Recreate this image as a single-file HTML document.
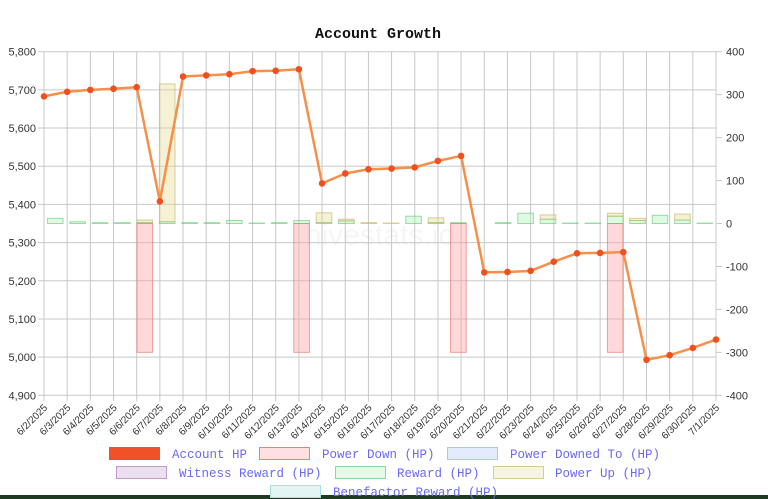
<!DOCTYPE html>
<html><head><meta charset="utf-8"><style>
body{margin:0;background:#fff;width:768px;height:499px;overflow:hidden}
svg{display:block}
</style></head><body>
<svg id="chart" width="768" height="499" xmlns="http://www.w3.org/2000/svg" font-family="Liberation Sans, sans-serif">
<rect x="0" y="0" width="768" height="499" fill="#fff"/>
<rect x="0" y="495" width="768" height="4" fill="#1e3a22"/>
<text x="378" y="38" text-anchor="middle" font-family="Liberation Mono, monospace" font-weight="bold" font-size="15" fill="#111">Account Growth</text>
<text x="380" y="245" text-anchor="middle" font-size="30" fill="#000" fill-opacity="0.04">hivestats.io</text>
<g id="grid"></g><g id="bars"></g><g id="line"></g><g id="axes"></g>
<g font-family="Liberation Mono, monospace" font-size="12.5" fill="#6a6af5">
<g><rect x="109.5" y="447.5" width="50" height="12" fill="#f05128" stroke="#f05128"/><text x="172" y="458">Account HP</text></g>
<g><rect x="259.5" y="447.5" width="50" height="12" fill="#ffe0e0" stroke="#f08080"/><text x="322" y="458">Power Down (HP)</text></g>
<g><rect x="447.5" y="447.5" width="50" height="12" fill="#e2ecfd" stroke="#a9c6f5"/><text x="510" y="458">Power Downed To (HP)</text></g>
<g><rect x="116.5" y="466.5" width="50" height="12" fill="#ebdff0" stroke="#c09ac8"/><text x="179" y="477">Witness Reward (HP)</text></g>
<g><rect x="335.5" y="466.5" width="50" height="12" fill="#e2fae6" stroke="#8ed69a"/><text x="397" y="477">Reward (HP)</text></g>
<g><rect x="493.5" y="466.5" width="50" height="12" fill="#f6f3df" stroke="#d6cc98"/><text x="555" y="477">Power Up (HP)</text></g>
<g><rect x="270.5" y="485.5" width="50" height="12" fill="#e2f5f2" stroke="#a0e3d8"/><text x="333" y="496">Benefactor Reward (HP)</text></g>
</g>
</svg>
<script>
const dates=["6/2/2025","6/3/2025","6/4/2025","6/5/2025","6/6/2025","6/7/2025","6/8/2025","6/9/2025","6/10/2025","6/11/2025","6/12/2025","6/13/2025","6/14/2025","6/15/2025","6/16/2025","6/17/2025","6/18/2025","6/19/2025","6/20/2025","6/21/2025","6/22/2025","6/23/2025","6/24/2025","6/25/2025","6/26/2025","6/27/2025","6/28/2025","6/29/2025","6/30/2025","7/1/2025"];
const accountHP=[5683,5695,5700,5703,5707,5408,5735,5738,5741,5749,5750,5754,5455,5481,5492,5494,5497,5514,5527,5222,5223,5226,5250,5272,5273,5275,4993,5005,5024,5046];
const powerDown=[0,0,0,0,-300,0,0,0,0,0,0,-300,0,0,0,0,0,0,-300,0,0,0,0,0,0,-300,0,0,0,0];
const reward=[12,4,2,2,2,4,2,2,7,1,2,7,2,6,0,0,17,2,2,0,2,24,10,1,1,17,7,19,8,1];
const powerUp=[0,0,0,0,6,321,0,0,0,0,0,0,23,4,2,1,0,11,0,0,0,0,10,0,0,7,5,0,14,0];
const leftTicks=[4900,5000,5100,5200,5300,5400,5500,5600,5700,5800];
const rightTicks=[-400,-300,-200,-100,0,100,200,300,400];
const X0=44,X1=716,Y0=51.7,Y1=395.3,NS="http://www.w3.org/2000/svg";
const xL=i=>X0+i*(X1-X0)/(dates.length-1);
const xB=i=>X0+(i+0.5)*(X1-X0)/dates.length;
const yL=v=>Y1-(v-4900)/900*(Y1-Y0);
const yR=v=>Y1-(v+400)/800*(Y1-Y0);
function mk(tag,attrs,parent,txt){const e=document.createElementNS(NS,tag);for(const k in attrs)e.setAttribute(k,attrs[k]);if(txt!==undefined)e.textContent=txt;document.getElementById(parent).appendChild(e);return e;}
const fmt=v=>v.toLocaleString("en-US");
leftTicks.forEach(v=>{const y=yL(v);
 const g=mk("line",{x1:X0-6,x2:X1,y1:y,y2:y,stroke:"#c8c8c8","stroke-width":1},"grid");
 
 
 const t=mk("text",{x:X0-8,y:y+4,"text-anchor":"end","font-size":11,fill:"#333"},"axes",fmt(v));
 
 });
rightTicks.forEach(v=>{const y=yR(v);
 const g=mk("line",{x1:X1,x2:X1+6,y1:y,y2:y,stroke:"#c8c8c8","stroke-width":1},"grid");
 
 
 const t=mk("text",{x:X1+10,y:y+4,"font-size":11,fill:"#333"},"axes",fmt(v));
 
 });
dates.forEach((d,i)=>{const x=xL(i);
 const g=mk("line",{x1:x,x2:x,y1:Y0,y2:Y1+6,stroke:"#c8c8c8","stroke-width":1},"grid");
 
 
 const t=mk("text",{x:x+4,y:Y1+13,"text-anchor":"end","font-size":10,fill:"#333",transform:`rotate(-45 ${x+4} ${Y1+13})`},"axes",d);
 
 });
const bw=15.6;
dates.forEach((d,i)=>{const cx=xB(i);
 if(powerDown[i]){const r=mk("rect",{x:cx-bw/2,y:yR(0),width:bw,height:yR(powerDown[i])-yR(0),fill:"rgba(255,160,160,0.4)",stroke:"rgba(230,100,100,0.6)"},"bars");
  
  }
 if(reward[i]){const r=mk("rect",{x:cx-bw/2,y:yR(reward[i]),width:bw,height:yR(0)-yR(reward[i]),fill:"rgba(160,240,175,0.35)",stroke:"rgba(90,200,110,0.6)"},"bars");
  
  }
 if(powerUp[i]){const b=reward[i];const r=mk("rect",{x:cx-bw/2,y:yR(b+powerUp[i]),width:bw,height:yR(b)-yR(b+powerUp[i]),fill:"rgba(230,220,150,0.4)",stroke:"rgba(200,185,110,0.7)"},"bars");
  
  }
});
const pts=accountHP.map((v,i)=>xL(i)+","+yL(v)).join(" ");
const pl=mk("polyline",{points:pts,fill:"none",stroke:"#f5904a","stroke-width":2.5,"stroke-linejoin":"round"},"line");


accountHP.forEach((v,i)=>{const c=mk("circle",{cx:xL(i),cy:yL(v),r:3.3,fill:"#f0501e"},"line");
 
 });
</script>
</body></html>
